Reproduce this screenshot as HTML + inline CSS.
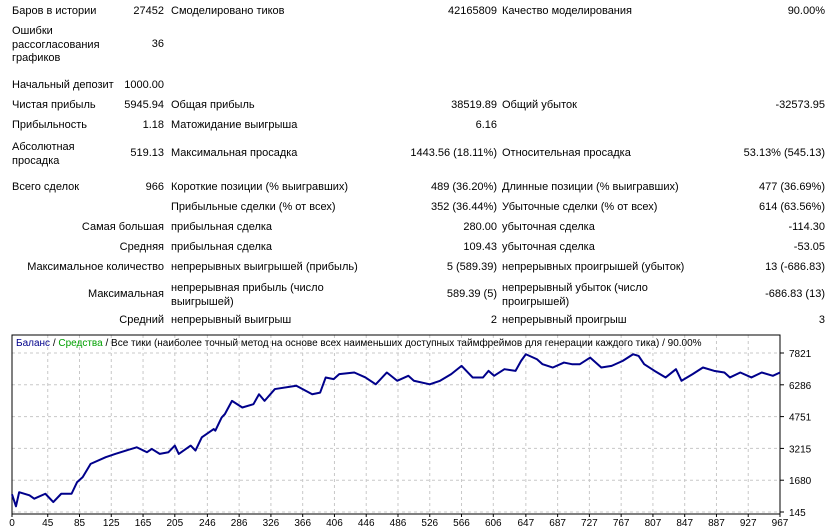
<!DOCTYPE html>
<html><head><meta charset="utf-8">
<style>
body{margin:0;width:831px;height:532px;background:#fff;font-family:"Liberation Sans","DejaVu Sans",sans-serif;font-size:11px;color:#000;position:relative;overflow:hidden}
.t{position:absolute;white-space:nowrap;line-height:13px}
.r{text-align:right}
</style></head><body>
<div>
<div class="t" style="left:12px;top:5px">Баров в истории</div>
<div class="t r" style="right:667px;top:5px">27452</div>
<div class="t" style="left:171px;top:5px">Смоделировано тиков</div>
<div class="t r" style="right:334px;top:5px">42165809</div>
<div class="t" style="left:502px;top:5px">Качество моделирования</div>
<div class="t r" style="right:6px;top:5px">90.00%</div>

<div class="t" style="left:12px;top:25px;line-height:13.5px">Ошибки<br>рассогласования<br>графиков</div>
<div class="t r" style="right:667px;top:38px">36</div>

<div class="t" style="left:12px;top:79px">Начальный депозит</div>
<div class="t r" style="right:667px;top:79px">1000.00</div>

<div class="t" style="left:12px;top:99px">Чистая прибыль</div>
<div class="t r" style="right:667px;top:99px">5945.94</div>
<div class="t" style="left:171px;top:99px">Общая прибыль</div>
<div class="t r" style="right:334px;top:99px">38519.89</div>
<div class="t" style="left:502px;top:99px">Общий убыток</div>
<div class="t r" style="right:6px;top:99px">-32573.95</div>

<div class="t" style="left:12px;top:119px">Прибыльность</div>
<div class="t r" style="right:667px;top:119px">1.18</div>
<div class="t" style="left:171px;top:119px">Матожидание выигрыша</div>
<div class="t r" style="right:334px;top:119px">6.16</div>

<div class="t" style="left:12px;top:140px;line-height:14px">Абсолютная<br>просадка</div>
<div class="t r" style="right:667px;top:147px">519.13</div>
<div class="t" style="left:171px;top:147px">Максимальная просадка</div>
<div class="t r" style="right:334px;top:147px">1443.56 (18.11%)</div>
<div class="t" style="left:502px;top:147px">Относительная просадка</div>
<div class="t r" style="right:6px;top:147px">53.13% (545.13)</div>

<div class="t" style="left:12px;top:181px">Всего сделок</div>
<div class="t r" style="right:667px;top:181px">966</div>
<div class="t" style="left:171px;top:181px">Короткие позиции (% выигравших)</div>
<div class="t r" style="right:334px;top:181px">489 (36.20%)</div>
<div class="t" style="left:502px;top:181px">Длинные позиции (% выигравших)</div>
<div class="t r" style="right:6px;top:181px">477 (36.69%)</div>

<div class="t" style="left:171px;top:201px">Прибыльные сделки (% от всех)</div>
<div class="t r" style="right:334px;top:201px">352 (36.44%)</div>
<div class="t" style="left:502px;top:201px">Убыточные сделки (% от всех)</div>
<div class="t r" style="right:6px;top:201px">614 (63.56%)</div>

<div class="t r" style="right:667px;top:221px">Самая большая</div>
<div class="t" style="left:171px;top:221px">прибыльная сделка</div>
<div class="t r" style="right:334px;top:221px">280.00</div>
<div class="t" style="left:502px;top:221px">убыточная сделка</div>
<div class="t r" style="right:6px;top:221px">-114.30</div>

<div class="t r" style="right:667px;top:241px">Средняя</div>
<div class="t" style="left:171px;top:241px">прибыльная сделка</div>
<div class="t r" style="right:334px;top:241px">109.43</div>
<div class="t" style="left:502px;top:241px">убыточная сделка</div>
<div class="t r" style="right:6px;top:241px">-53.05</div>

<div class="t r" style="right:667px;top:261px">Максимальное количество</div>
<div class="t" style="left:171px;top:261px">непрерывных выигрышей (прибыль)</div>
<div class="t r" style="right:334px;top:261px">5 (589.39)</div>
<div class="t" style="left:502px;top:261px">непрерывных проигрышей (убыток)</div>
<div class="t r" style="right:6px;top:261px">13 (-686.83)</div>

<div class="t r" style="right:667px;top:288px">Максимальная</div>
<div class="t" style="left:171px;top:281px;line-height:14px">непрерывная прибыль (число<br>выигрышей)</div>
<div class="t r" style="right:334px;top:288px">589.39 (5)</div>
<div class="t" style="left:502px;top:281px;line-height:14px">непрерывный убыток (число<br>проигрышей)</div>
<div class="t r" style="right:6px;top:288px">-686.83 (13)</div>

<div class="t r" style="right:667px;top:314px">Средний</div>
<div class="t" style="left:171px;top:314px">непрерывный выигрыш</div>
<div class="t r" style="right:334px;top:314px">2</div>
<div class="t" style="left:502px;top:314px">непрерывный проигрыш</div>
<div class="t r" style="right:6px;top:314px">3</div>
</div>

<svg id="chart" style="position:absolute;left:0;top:0" width="831" height="532" font-family="Liberation Sans, DejaVu Sans, sans-serif" font-size="10"></svg>
<script>
const trades=[0,5,9,22,28,42,52,62,75,82,89,99,118,130,157,170,176,186,197,205,210,225,231,239,254,256,264,268,277,290,304,311,318,331,358,378,388,395,405,412,431,445,458,472,485,499,506,526,539,553,566,580,593,600,607,620,634,641,647,661,668,681,695,705,715,728,742,755,769,782,789,796,809,823,836,843,857,870,884,897,904,917,931,944,958,967];
const balances=[1000,420,1100,950,786,1026,626,1026,1026,1588,1828,2469,2790,2950,3270,3030,3190,2950,3030,3350,2950,3350,3110,3750,4150,4070,4710,4870,5510,5190,5350,5830,5510,6080,6240,5830,5910,6640,6560,6800,6880,6640,6310,6880,6480,6720,6480,6310,6480,6800,7200,6640,6640,6960,6720,7040,6960,7440,7760,7520,7280,7120,7360,7280,7280,7600,7120,7200,7440,7760,7680,7280,6960,6640,7040,6480,6800,7120,6960,6880,6640,6880,6640,6880,6720,6880];
const yTicks=[145,1680,3215,4751,6286,7821];
const xTicks=[0,45,85,125,165,205,246,286,326,366,406,446,486,526,566,606,647,687,727,767,807,847,887,927,967];
const L=12,R=780,T=335,B=514;
const x=t=>L+t*(R-L)/967;
const y=v=>512-(v-145)*(512-353)/(7821-145);
const svg=document.getElementById('chart');
const NS='http://www.w3.org/2000/svg';
function mk(tag,attrs){const e=document.createElementNS(NS,tag);for(const k in attrs)e.setAttribute(k,attrs[k]);svg.appendChild(e);return e;}
const box=mk('rect',{x:L,y:T,width:R-L,height:B-T,fill:'#fff',stroke:'none'});


yTicks.forEach(v=>{
 const g=mk('line',{x1:L,x2:R,y1:y(v),y2:y(v),stroke:'#c8c8c8','stroke-dasharray':'3,3'});
 
 
 const tk=mk('line',{x1:R,x2:R+4,y1:y(v),y2:y(v),stroke:'#000'});
 
 
 const tx=mk('text',{x:R+9,y:y(v)+4,fill:'#000'});tx.textContent=v;
 
 
});
xTicks.forEach(t=>{
 const g=mk('line',{x1:x(t),x2:x(t),y1:T,y2:B,stroke:'#c8c8c8','stroke-dasharray':'3,3'});
 
 
 const tk=mk('line',{x1:x(t),x2:x(t),y1:B,y2:B+3,stroke:'#000'});
 
 
 const tx=mk('text',{x:x(t),y:B+12,fill:'#000','text-anchor':'middle'});tx.textContent=t;
 
 
});
const frame=mk('rect',{x:L,y:T,width:R-L,height:B-T,fill:'none',stroke:'#000'});


const line=mk('polyline',{points:trades.map((t,i)=>x(t)+','+y(balances[i])).join(' '),fill:'none',stroke:'#00008b','stroke-width':2,'stroke-linejoin':'round'});


const title=mk('text',{x:16,y:346,fill:'#000'});


title.innerHTML='<tspan fill="#00008b">Баланс</tspan> / <tspan fill="#00a000">Средства</tspan> / Все тики (наиболее точный метод на основе всех наименьших доступных таймфреймов для генерации каждого тика) / 90.00%';
</script>
</body></html>
